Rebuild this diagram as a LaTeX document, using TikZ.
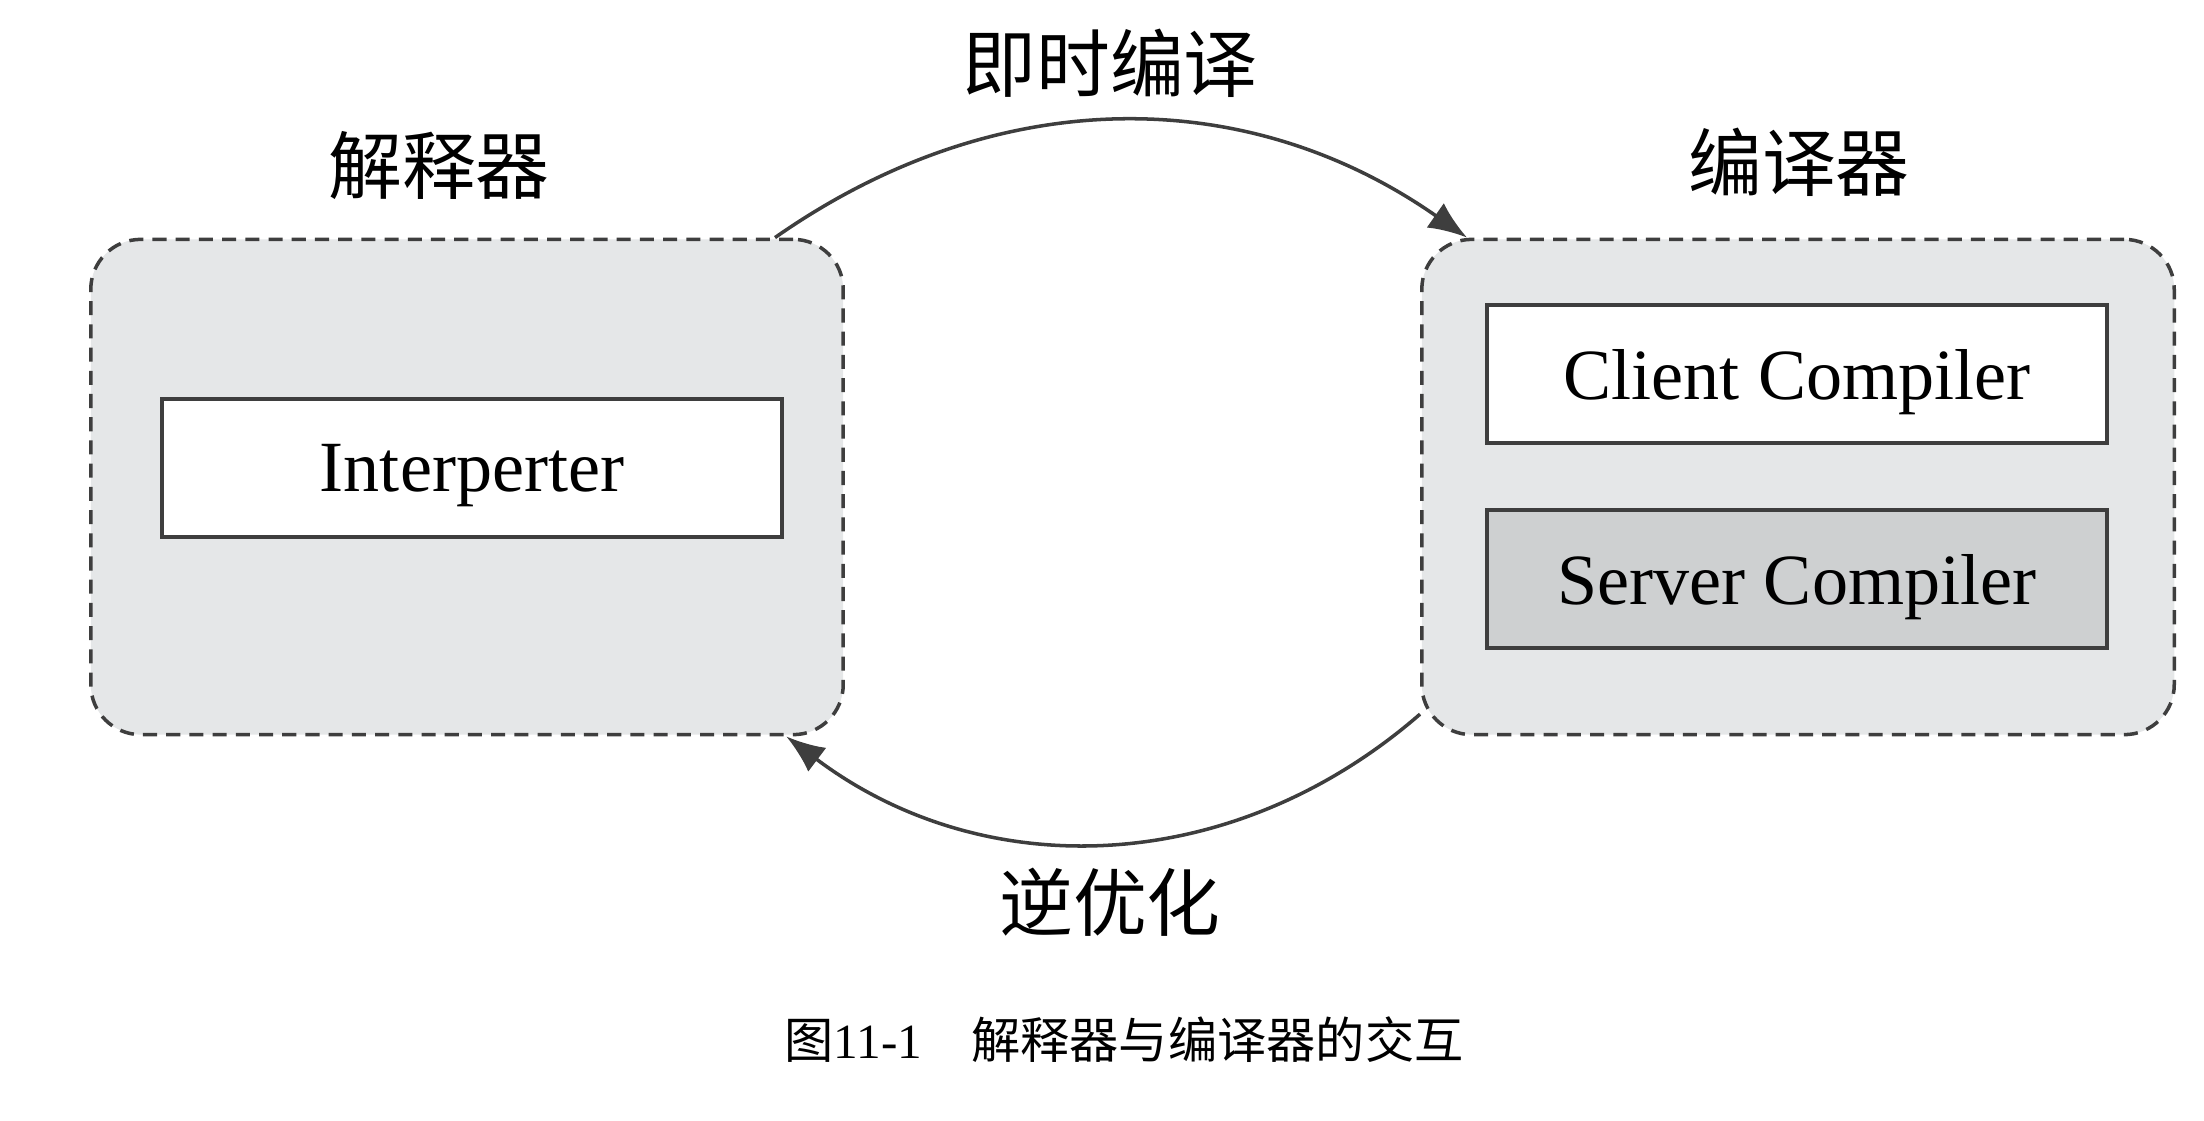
\documentclass[tikz,border=0pt]{standalone}
\usepackage{fontspec}
\setmainfont{Liberation Serif}
\newfontfamily\cjk{Noto Sans CJK SC}
\usetikzlibrary{positioning,arrows.meta}
\definecolor{panelgray}{RGB}{229,231,232}
\definecolor{servergray}{RGB}{206,208,209}
\definecolor{edgegray}{RGB}{62,62,62}

\begin{document}
\begin{tikzpicture}[x=0.01cm,y=0.01cm,
  panel/.style={draw=edgegray,fill=panelgray,dash pattern=on 4pt off 2.6pt,line width=1pt,rounded corners=0.5cm,minimum width=7.52cm,minimum height=4.95cm,inner sep=0pt},
  part/.style={draw=edgegray,fill=white,line width=1pt,minimum width=6.2cm,minimum height=1.38cm,inner sep=0pt,text depth=0pt,font=\fontsize{20.5}{24}\selectfont},
  title/.style={font=\cjk\fontsize{21}{25}\selectfont,inner sep=0pt},
  flow/.style={-{Latex[length=11pt,width=8.5pt]},line width=1pt,draw=edgegray}]
\useasboundingbox (0,0) rectangle (2204,1120);
% the two groups
\node[panel] (interp) at (467,633) {};
\node[panel] (comp) at (1798,633) {};
\node[part] (I) at (472,652) {Interperter};
\node[part] (client) at (1797,746) {Client Compiler};
\node[part, fill=servergray] (server) at (1797,541) {Server Compiler};
% titles
\node[title] (interpT) at (439,954) {解释器};
\node[title] (compT) at (1799,958) {编译器};
% transitions
\draw[flow] (interp.39.6) to[bend left=35] (comp.143.6);
\draw[flow] (comp.211) to[bend left=39] (interp.-38);
\node[title] (jit) at (1110,1057) {即时编译};
\node[title] (deopt) at (1110,218) {逆优化};
% caption
\node[font=\fontsize{14}{17}\selectfont] (cap) at (1124,80) {{\cjk 图}11-1\quad{\cjk 解释器与编译器的交互}};
\end{tikzpicture}
\end{document}
